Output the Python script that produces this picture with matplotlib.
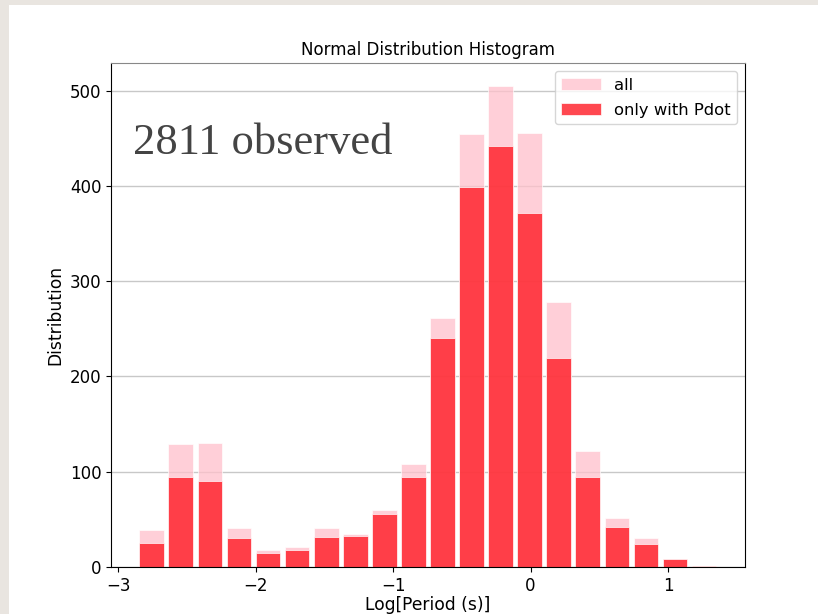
import numpy as np
import matplotlib
matplotlib.use('Agg')
import matplotlib.pyplot as plt
from matplotlib.patches import Rectangle

# bin edges of log10(period) and counts per bin
bin_edges = np.linspace(-2.862, 1.369, 21)
all_counts = [39, 129, 130, 41, 18, 21, 41, 35, 60, 108,
              261, 454, 505, 456, 278, 122, 51, 30, 8, 1]
pdot_counts = [25, 94, 90, 30, 15, 18, 32, 33, 56, 94,
               240, 399, 442, 372, 219, 94, 42, 24, 8, 1]
n_observed = 2811

centers = (bin_edges[:-1] + bin_edges[1:]) / 2

fig = plt.figure(figsize=(8.18, 6.14), dpi=100, facecolor='#e9e5e0')
# white sheet behind the plot
fig.patches.append(Rectangle((9 / 818, 0), 1, 1 - 5 / 614, transform=fig.transFigure,
                             facecolor='white', edgecolor='none', zorder=-5))

ax = fig.add_axes([0.1357, 0.0765, 0.7751, 0.8209])
ax.set_zorder(1)
ax.set_axisbelow(True)
ax.yaxis.grid(True, color='#c8c8c8', linewidth=1)

ax.hist(centers, bins=bin_edges, weights=all_counts, rwidth=0.85,
        color='pink', alpha=0.75, edgecolor='white', linewidth=0.6, label='all')
ax.hist(centers, bins=bin_edges, weights=pdot_counts, rwidth=0.85,
        color='#ff1a24', alpha=0.8, edgecolor='white', linewidth=0.6, label='only with Pdot')

ax.set_xlim(-3.053, 1.561)
ax.set_ylim(0, 529)
ax.set_xticks([-3, -2, -1, 0, 1])
ax.set_yticks([0, 100, 200, 300, 400, 500])
ax.tick_params(labelsize=12)
ax.spines['top'].set_color('#888888')

ax.set_title('Normal Distribution Histogram', fontsize=12)
ax.set_xlabel('Log[Period (s)]', fontsize=12.3, labelpad=1)
ax.set_ylabel('Distribution', fontsize=12.3)

ax.text(0.035, 0.82, f'{n_observed} observed', transform=ax.transAxes,
        family='Liberation Serif', fontsize=32, color='#444444')

ax.legend(loc='upper right', fontsize=11.8, handlelength=2.4, labelspacing=0.6)

fig.savefig('out.png', dpi=100, facecolor=fig.get_facecolor())
